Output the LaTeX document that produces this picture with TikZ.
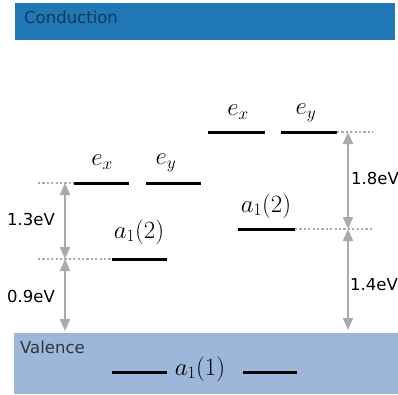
\documentclass[tikz,border=0pt]{standalone}
\usepackage{fontspec}
\setsansfont{DejaVu Sans}
\usetikzlibrary{arrows.meta}

\definecolor{condblue}{HTML}{1F77B4}
\definecolor{valblue}{HTML}{9DB7DA}
\definecolor{gapgray}{HTML}{AAAAAA}
\definecolor{bandtext}{HTML}{17375E}

\begin{document}
\begin{tikzpicture}[x=1pt,y=-1pt]

\tikzset{
  level line/.style={line width=3pt},
  guide line/.style={gapgray, line width=1.4pt, dash pattern=on 2.2pt off 2.2pt},
  gap arrow/.style={gapgray, line width=2pt,
    {Triangle[length=12pt,width=10pt]}-{Triangle[length=12pt,width=10pt]}},
  math label/.style={inner sep=0pt, font=\fontsize{26.5}{30}\selectfont},
  band label/.style={inner sep=0pt, anchor=west, font=\sffamily\fontsize{16.5}{19}\selectfont},
}

\useasboundingbox (0,0) rectangle (398,394);

  % Bands
  \fill[condblue] (15,3) rectangle (395,40);
  \fill[valblue] (14,333) rectangle (398,394);
  \node[band label, text=bandtext] (cond) at (24,17) {Conduction};
  \node[band label, text=black!80] (val) at (20,347) {Valence};

  % Left defect levels
  \coordinate (Lex1) at (74,183);  \coordinate (Lex2) at (129,183);
  \coordinate (Ley1) at (146,183); \coordinate (Ley2) at (201,183);
  \coordinate (La1) at (112,259);  \coordinate (La2) at (167,259);
  \draw[level line] (Lex1) -- (Lex2);
  \draw[level line] (Ley1) -- (Ley2);
  \draw[level line] (La1) -- (La2);
  \node[math label] (Lexl) at (102,162) {$e_x$};
  \node[math label] (Leyl) at (166,163) {$e_y$};
  \node[math label] (Lal) at (139,232) {$a_1(2)$};

  % Right defect levels
  \coordinate (Rex1) at (208,132); \coordinate (Rex2) at (265,132);
  \coordinate (Rey1) at (281,132); \coordinate (Rey2) at (337,132);
  \coordinate (Ra1) at (238,229);  \coordinate (Ra2) at (295,229);
  \draw[level line] (Rex1) -- (Rex2);
  \draw[level line] (Rey1) -- (Rey2);
  \draw[level line] (Ra1) -- (Ra2);
  \node[math label] (Rexl) at (238,112) {$e_x$};
  \node[math label] (Reyl) at (306,113) {$e_y$};
  \node[math label] (Ral) at (266,206) {$a_1(2)$};

  % Valence level
  \coordinate (V1) at (112,372); \coordinate (V2) at (167,372);
  \coordinate (V3) at (243,372); \coordinate (V4) at (297,372);
  \draw[level line] (V1) -- (V2);
  \draw[level line] (V3) -- (V4);
  \node[math label] (Val) at (200,369) {$a_1(1)$};

  % Guides
  \coordinate (Lg1) at (38,183); \coordinate (Lg2) at (38,259);
  \coordinate (Rg1) at (373,132); \coordinate (Rg2) at (373,229);
  \draw[guide line] (Lg1) -- (Lex1);
  \draw[guide line] (Lg2) -- (La1);
  \draw[guide line] (Rey2) -- (Rg1);
  \draw[guide line] (Ra2) -- (Rg2);

  % Gaps
  \coordinate (Ltop) at (65,183); \coordinate (Lmid) at (65,259); \coordinate (Lbot) at (65,331);
  \coordinate (Rtop) at (348,132); \coordinate (Rmid) at (348,229); \coordinate (Rbot) at (348,330);
  \draw[gap arrow] (Ltop) -- (Lmid);
  \draw[gap arrow] (Lmid) -- (Lbot);
  \draw[gap arrow] (Rtop) -- (Rmid);
  \draw[gap arrow] (Rmid) -- (Rbot);
  \node[band label] (g13) at (7,219) {1.3eV};
  \node[band label] (g09) at (7,296) {0.9eV};
  \node[band label] (g18) at (351,178) {1.8eV};
  \node[band label] (g14) at (350,285) {1.4eV};

\end{tikzpicture}
\end{document}
